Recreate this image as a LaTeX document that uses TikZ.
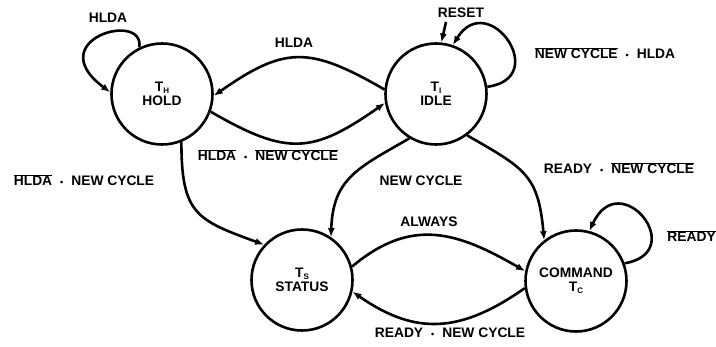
\documentclass[tikz,border=0pt]{standalone}
\usepackage{fontspec}
\setmainfont{Liberation Sans}
\usetikzlibrary{arrows.meta}
\newcommand{\ob}[1]{\ensuremath{\overline{\mbox{#1}}}}
\newcommand{\dotsep}{\hspace{8pt}{\fontsize{9}{9}\selectfont •}\hspace{8pt}}
\newcommand{\sub}[1]{\raisebox{-2pt}{\fontsize{8}{8}\selectfont #1}}
\begin{document}
\begin{tikzpicture}[x=1pt,y=-1pt,
  lbl/.style={font=\fontsize{13.8}{15}\selectfont\bfseries, inner sep=0pt},
  state/.style={circle, draw, line width=2.6pt, minimum size=101pt, inner sep=0pt,
    align=center, font=\fontsize{13.8}{14}\selectfont\bfseries},
  arr/.style={line width=2.6pt, -{Latex[length=9pt,width=7pt]}}]
\useasboundingbox (0,0) rectangle (716,347);
\node[state] (hold) at (162,94) {T\sub{H}\\HOLD};
\node[state] (idle) at (436,94) {T\sub{I}\\IDLE};
\node[state] (status) at (302,280) {T\sub{S}\\STATUS};
\node[state] (command) at (576,281) {COMMAND\\T\sub{C}};
% labels
\node[lbl] (lholdloop) at (108,18) {HLDA};
\node[lbl] (ltop) at (294,43) {HLDA};
\node[lbl] (reset) at (461,13) {RESET};
\node[lbl] (lidleloop) at (605,53) {\ob{NEW CYCLE}\dotsep HLDA};
\node[lbl] (lhi) at (268,155) {\ob{HLDA}\dotsep\ob{NEW CYCLE}};
\node[lbl] (lhs) at (84,180) {\ob{HLDA}\dotsep NEW CYCLE};
\node[lbl] (lis) at (421,181) {NEW CYCLE};
\node[lbl] (lic) at (619,168) {READY\dotsep\ob{NEW CYCLE}};
\node[lbl] (lalw) at (429,222) {ALWAYS};
\node[lbl, anchor=east] (lready) at (716,236) {\ob{READY}};
\node[lbl] (lcs) at (450,333) {READY\dotsep NEW CYCLE};
\coordinate (rs) at (446,22);
% edges
\draw[arr] (hold.116) .. controls (145,10) and (40,40) .. (hold.178);
\draw[arr] (idle.175) to[out=150,in=35,looseness=1.3] (hold.358);
\draw[arr] (hold.340) to[out=-30,in=215,looseness=1.3] (idle.190);
\draw[arr] (hold.-68) to[out=-90,in=160,looseness=1.4] (status.137);
\draw[arr] (idle.239) to[out=210,in=88,looseness=1.2] (status.56);
\draw[arr] (idle.-53) to[out=-30,in=95,looseness=1.3] (command.128);
\draw[arr] (status.15) to[out=40,in=150,looseness=1.15] (command.169);
\draw[arr] (command.188) to[out=215,in=-35,looseness=1.15] (status.-13);
\draw[arr] (command.20) .. controls (690,252) and (620,165) .. (command.75);
\draw[arr] (idle.8) .. controls (552,78) and (488,-12) .. (idle.71);
\draw[arr] (rs) -- (idle.84);
\end{tikzpicture}
\end{document}
